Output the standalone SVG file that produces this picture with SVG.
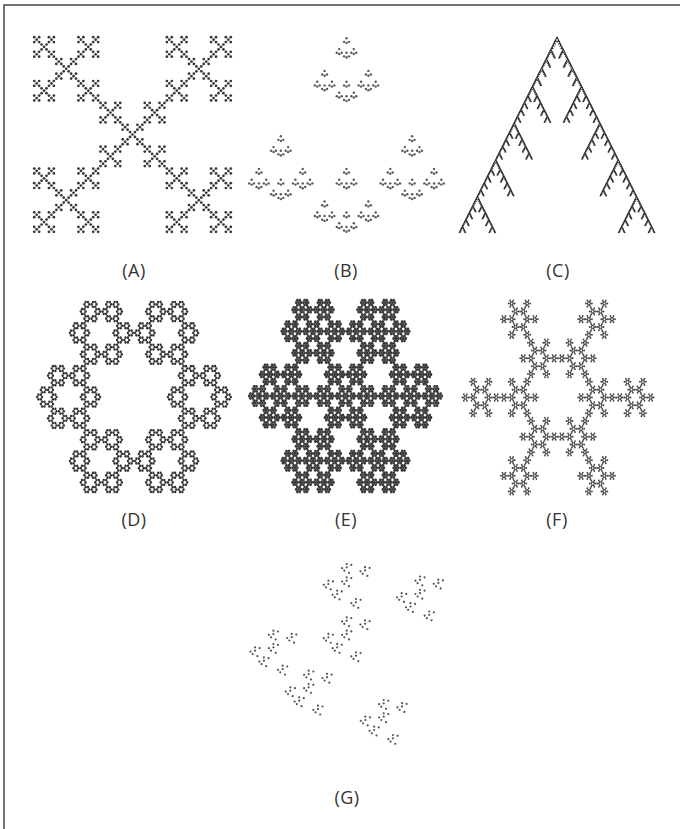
<svg xmlns="http://www.w3.org/2000/svg" width="680" height="829" viewBox="0 0 680 829">
  <style>
    .lbl { font-family: "Open Sans", "Liberation Sans", sans-serif; font-size: 18px; fill: #333; text-anchor: middle; letter-spacing: 0.5px; }
    .frame { fill: none; stroke: #444; stroke-width: 1.5; }
  </style>
  <defs>
    <!-- A: saltire (diagonal Vicsek) set, 5 maps at 1/3 -->
    <circle id="a0" cx="0.5" cy="0.5" r="0.56"/>
    <g id="a1">
      <use href="#a0" transform="translate(0,0) scale(0.3333333)"/>
      <use href="#a0" transform="translate(0.6666667,0) scale(0.3333333)"/>
      <use href="#a0" transform="translate(0,0.6666667) scale(0.3333333)"/>
      <use href="#a0" transform="translate(0.6666667,0.6666667) scale(0.3333333)"/>
      <use href="#a0" transform="translate(0.3333333,0.3333333) scale(0.3333333)"/>
    </g>
    <g id="a2">
      <use href="#a1" transform="translate(0,0) scale(0.3333333)"/>
      <use href="#a1" transform="translate(0.6666667,0) scale(0.3333333)"/>
      <use href="#a1" transform="translate(0,0.6666667) scale(0.3333333)"/>
      <use href="#a1" transform="translate(0.6666667,0.6666667) scale(0.3333333)"/>
      <use href="#a1" transform="translate(0.3333333,0.3333333) scale(0.3333333)"/>
    </g>
    <g id="a3">
      <use href="#a2" transform="translate(0,0) scale(0.3333333)"/>
      <use href="#a2" transform="translate(0.6666667,0) scale(0.3333333)"/>
      <use href="#a2" transform="translate(0,0.6666667) scale(0.3333333)"/>
      <use href="#a2" transform="translate(0.6666667,0.6666667) scale(0.3333333)"/>
      <use href="#a2" transform="translate(0.3333333,0.3333333) scale(0.3333333)"/>
    </g>
    <g id="a4">
      <use href="#a3" transform="translate(0,0) scale(0.3333333)"/>
      <use href="#a3" transform="translate(0.6666667,0) scale(0.3333333)"/>
      <use href="#a3" transform="translate(0,0.6666667) scale(0.3333333)"/>
      <use href="#a3" transform="translate(0.6666667,0.6666667) scale(0.3333333)"/>
      <use href="#a3" transform="translate(0.3333333,0.3333333) scale(0.3333333)"/>
    </g>

    <!-- B: four maps at 1/3 (top, left, right, lower middle) -->
    <circle id="b0" cx="0.5" cy="0.5" r="0.5"/>
    <g id="b1">
      <use href="#b0" transform="translate(0.3333333,0) scale(0.3333333)"/>
      <use href="#b0" transform="translate(0,0.5) scale(0.3333333)"/>
      <use href="#b0" transform="translate(0.6666667,0.5) scale(0.3333333)"/>
      <use href="#b0" transform="translate(0.3333333,0.6666667) scale(0.3333333)"/>
    </g>
    <g id="b2">
      <use href="#b1" transform="translate(0.3333333,0) scale(0.3333333)"/>
      <use href="#b1" transform="translate(0,0.5) scale(0.3333333)"/>
      <use href="#b1" transform="translate(0.6666667,0.5) scale(0.3333333)"/>
      <use href="#b1" transform="translate(0.3333333,0.6666667) scale(0.3333333)"/>
    </g>
    <g id="b3">
      <use href="#b2" transform="translate(0.3333333,0) scale(0.3333333)"/>
      <use href="#b2" transform="translate(0,0.5) scale(0.3333333)"/>
      <use href="#b2" transform="translate(0.6666667,0.5) scale(0.3333333)"/>
      <use href="#b2" transform="translate(0.3333333,0.6666667) scale(0.3333333)"/>
    </g>
    <g id="b4">
      <use href="#b3" transform="translate(0.3333333,0) scale(0.3333333)"/>
      <use href="#b3" transform="translate(0,0.5) scale(0.3333333)"/>
      <use href="#b3" transform="translate(0.6666667,0.5) scale(0.3333333)"/>
      <use href="#b3" transform="translate(0.3333333,0.6666667) scale(0.3333333)"/>
    </g>

    <!-- C: chevron tree, a top copy at 1/4 and four copies at 3/16 down each leg -->
    <path id="c0" d="M0,1 L0.5,0 L1,1" fill="none" stroke="#2e2e2e" stroke-width="1.1" vector-effect="non-scaling-stroke" stroke-linejoin="round"/>
    <g id="c1">
      <use href="#c0" transform="translate(0.375,0) scale(0.25)"/>
      <use href="#c0" transform="translate(0.28125,0.25) scale(0.1875)"/>
      <use href="#c0" transform="translate(0.1875,0.4375) scale(0.1875)"/>
      <use href="#c0" transform="translate(0.09375,0.625) scale(0.1875)"/>
      <use href="#c0" transform="translate(0,0.8125) scale(0.1875)"/>
      <use href="#c0" transform="translate(0.53125,0.25) scale(0.1875)"/>
      <use href="#c0" transform="translate(0.625,0.4375) scale(0.1875)"/>
      <use href="#c0" transform="translate(0.71875,0.625) scale(0.1875)"/>
      <use href="#c0" transform="translate(0.8125,0.8125) scale(0.1875)"/>
    </g>
    <g id="c2">
      <use href="#c1" transform="translate(0.375,0) scale(0.25)"/>
      <use href="#c1" transform="translate(0.28125,0.25) scale(0.1875)"/>
      <use href="#c1" transform="translate(0.1875,0.4375) scale(0.1875)"/>
      <use href="#c1" transform="translate(0.09375,0.625) scale(0.1875)"/>
      <use href="#c1" transform="translate(0,0.8125) scale(0.1875)"/>
      <use href="#c1" transform="translate(0.53125,0.25) scale(0.1875)"/>
      <use href="#c1" transform="translate(0.625,0.4375) scale(0.1875)"/>
      <use href="#c1" transform="translate(0.71875,0.625) scale(0.1875)"/>
      <use href="#c1" transform="translate(0.8125,0.8125) scale(0.1875)"/>
    </g>
    <g id="c3">
      <use href="#c2" transform="translate(0.375,0) scale(0.25)"/>
      <use href="#c2" transform="translate(0.28125,0.25) scale(0.1875)"/>
      <use href="#c2" transform="translate(0.1875,0.4375) scale(0.1875)"/>
      <use href="#c2" transform="translate(0.09375,0.625) scale(0.1875)"/>
      <use href="#c2" transform="translate(0,0.8125) scale(0.1875)"/>
      <use href="#c2" transform="translate(0.53125,0.25) scale(0.1875)"/>
      <use href="#c2" transform="translate(0.625,0.4375) scale(0.1875)"/>
      <use href="#c2" transform="translate(0.71875,0.625) scale(0.1875)"/>
      <use href="#c2" transform="translate(0.8125,0.8125) scale(0.1875)"/>
    </g>

    <!-- D: hexagonal ring, six maps at 1/3 -->
    <circle id="d0" cx="0" cy="0" r="0.98"/>
    <g id="d1">
      <use href="#d0" transform="translate(0.6666667,0) scale(0.3333333)"/>
      <use href="#d0" transform="translate(0.3333333,0.5773503) scale(0.3333333)"/>
      <use href="#d0" transform="translate(-0.3333333,0.5773503) scale(0.3333333)"/>
      <use href="#d0" transform="translate(-0.6666667,0) scale(0.3333333)"/>
      <use href="#d0" transform="translate(-0.3333333,-0.5773503) scale(0.3333333)"/>
      <use href="#d0" transform="translate(0.3333333,-0.5773503) scale(0.3333333)"/>
    </g>
    <g id="d2">
      <use href="#d1" transform="translate(0.6666667,0) scale(0.3333333)"/>
      <use href="#d1" transform="translate(0.3333333,0.5773503) scale(0.3333333)"/>
      <use href="#d1" transform="translate(-0.3333333,0.5773503) scale(0.3333333)"/>
      <use href="#d1" transform="translate(-0.6666667,0) scale(0.3333333)"/>
      <use href="#d1" transform="translate(-0.3333333,-0.5773503) scale(0.3333333)"/>
      <use href="#d1" transform="translate(0.3333333,-0.5773503) scale(0.3333333)"/>
    </g>
    <g id="d3">
      <use href="#d2" transform="translate(0.6666667,0) scale(0.3333333)"/>
      <use href="#d2" transform="translate(0.3333333,0.5773503) scale(0.3333333)"/>
      <use href="#d2" transform="translate(-0.3333333,0.5773503) scale(0.3333333)"/>
      <use href="#d2" transform="translate(-0.6666667,0) scale(0.3333333)"/>
      <use href="#d2" transform="translate(-0.3333333,-0.5773503) scale(0.3333333)"/>
      <use href="#d2" transform="translate(0.3333333,-0.5773503) scale(0.3333333)"/>
    </g>
    <g id="d4">
      <use href="#d3" transform="translate(0.6666667,0) scale(0.3333333)"/>
      <use href="#d3" transform="translate(0.3333333,0.5773503) scale(0.3333333)"/>
      <use href="#d3" transform="translate(-0.3333333,0.5773503) scale(0.3333333)"/>
      <use href="#d3" transform="translate(-0.6666667,0) scale(0.3333333)"/>
      <use href="#d3" transform="translate(-0.3333333,-0.5773503) scale(0.3333333)"/>
      <use href="#d3" transform="translate(0.3333333,-0.5773503) scale(0.3333333)"/>
    </g>

    <!-- E: hexaflake, six ring maps plus the centre, all at 1/3 -->
    <polygon id="e0" points="1.2,0 0.6,1.0392305 -0.6,1.0392305 -1.2,0 -0.6,-1.0392305 0.6,-1.0392305"/>
    <g id="e1">
      <use href="#e0" transform="scale(0.3333333)"/>
      <use href="#e0" transform="translate(0.6666667,0) scale(0.3333333)"/>
      <use href="#e0" transform="translate(0.3333333,0.5773503) scale(0.3333333)"/>
      <use href="#e0" transform="translate(-0.3333333,0.5773503) scale(0.3333333)"/>
      <use href="#e0" transform="translate(-0.6666667,0) scale(0.3333333)"/>
      <use href="#e0" transform="translate(-0.3333333,-0.5773503) scale(0.3333333)"/>
      <use href="#e0" transform="translate(0.3333333,-0.5773503) scale(0.3333333)"/>
    </g>
    <g id="e2">
      <use href="#e1" transform="scale(0.3333333)"/>
      <use href="#e1" transform="translate(0.6666667,0) scale(0.3333333)"/>
      <use href="#e1" transform="translate(0.3333333,0.5773503) scale(0.3333333)"/>
      <use href="#e1" transform="translate(-0.3333333,0.5773503) scale(0.3333333)"/>
      <use href="#e1" transform="translate(-0.6666667,0) scale(0.3333333)"/>
      <use href="#e1" transform="translate(-0.3333333,-0.5773503) scale(0.3333333)"/>
      <use href="#e1" transform="translate(0.3333333,-0.5773503) scale(0.3333333)"/>
    </g>
    <g id="e3">
      <use href="#e2" transform="scale(0.3333333)"/>
      <use href="#e2" transform="translate(0.6666667,0) scale(0.3333333)"/>
      <use href="#e2" transform="translate(0.3333333,0.5773503) scale(0.3333333)"/>
      <use href="#e2" transform="translate(-0.3333333,0.5773503) scale(0.3333333)"/>
      <use href="#e2" transform="translate(-0.6666667,0) scale(0.3333333)"/>
      <use href="#e2" transform="translate(-0.3333333,-0.5773503) scale(0.3333333)"/>
      <use href="#e2" transform="translate(0.3333333,-0.5773503) scale(0.3333333)"/>
    </g>
    <g id="e4">
      <use href="#e3" transform="scale(0.3333333)"/>
      <use href="#e3" transform="translate(0.6666667,0) scale(0.3333333)"/>
      <use href="#e3" transform="translate(0.3333333,0.5773503) scale(0.3333333)"/>
      <use href="#e3" transform="translate(-0.3333333,0.5773503) scale(0.3333333)"/>
      <use href="#e3" transform="translate(-0.6666667,0) scale(0.3333333)"/>
      <use href="#e3" transform="translate(-0.3333333,-0.5773503) scale(0.3333333)"/>
      <use href="#e3" transform="translate(0.3333333,-0.5773503) scale(0.3333333)"/>
    </g>

    <!-- F: snowflake, twelve maps at 1/5 on two rings (0.4 and 0.8) -->
    <circle id="f0" cx="0" cy="0" r="1.1"/>
    <g id="f1">
      <use href="#f0" transform="translate(0.4,0) scale(0.2)"/>
      <use href="#f0" transform="translate(0.2,0.3464102) scale(0.2)"/>
      <use href="#f0" transform="translate(-0.2,0.3464102) scale(0.2)"/>
      <use href="#f0" transform="translate(-0.4,0) scale(0.2)"/>
      <use href="#f0" transform="translate(-0.2,-0.3464102) scale(0.2)"/>
      <use href="#f0" transform="translate(0.2,-0.3464102) scale(0.2)"/>
      <use href="#f0" transform="translate(0.8,0) scale(0.2)"/>
      <use href="#f0" transform="translate(0.4,0.6928203) scale(0.2)"/>
      <use href="#f0" transform="translate(-0.4,0.6928203) scale(0.2)"/>
      <use href="#f0" transform="translate(-0.8,0) scale(0.2)"/>
      <use href="#f0" transform="translate(-0.4,-0.6928203) scale(0.2)"/>
      <use href="#f0" transform="translate(0.4,-0.6928203) scale(0.2)"/>
    </g>
    <g id="f2">
      <use href="#f1" transform="translate(0.4,0) scale(0.2)"/>
      <use href="#f1" transform="translate(0.2,0.3464102) scale(0.2)"/>
      <use href="#f1" transform="translate(-0.2,0.3464102) scale(0.2)"/>
      <use href="#f1" transform="translate(-0.4,0) scale(0.2)"/>
      <use href="#f1" transform="translate(-0.2,-0.3464102) scale(0.2)"/>
      <use href="#f1" transform="translate(0.2,-0.3464102) scale(0.2)"/>
      <use href="#f1" transform="translate(0.8,0) scale(0.2)"/>
      <use href="#f1" transform="translate(0.4,0.6928203) scale(0.2)"/>
      <use href="#f1" transform="translate(-0.4,0.6928203) scale(0.2)"/>
      <use href="#f1" transform="translate(-0.8,0) scale(0.2)"/>
      <use href="#f1" transform="translate(-0.4,-0.6928203) scale(0.2)"/>
      <use href="#f1" transform="translate(0.4,-0.6928203) scale(0.2)"/>
    </g>
    <g id="f3">
      <use href="#f2" transform="translate(0.4,0) scale(0.2)"/>
      <use href="#f2" transform="translate(0.2,0.3464102) scale(0.2)"/>
      <use href="#f2" transform="translate(-0.2,0.3464102) scale(0.2)"/>
      <use href="#f2" transform="translate(-0.4,0) scale(0.2)"/>
      <use href="#f2" transform="translate(-0.2,-0.3464102) scale(0.2)"/>
      <use href="#f2" transform="translate(0.2,-0.3464102) scale(0.2)"/>
      <use href="#f2" transform="translate(0.8,0) scale(0.2)"/>
      <use href="#f2" transform="translate(0.4,0.6928203) scale(0.2)"/>
      <use href="#f2" transform="translate(-0.4,0.6928203) scale(0.2)"/>
      <use href="#f2" transform="translate(-0.8,0) scale(0.2)"/>
      <use href="#f2" transform="translate(-0.4,-0.6928203) scale(0.2)"/>
      <use href="#f2" transform="translate(0.4,-0.6928203) scale(0.2)"/>
    </g>

    <!-- G: six pure translations, each level a quarter of the one above -->
    <circle id="g0" cx="0" cy="0" r="1.1"/>
    <g id="g1">
      <use href="#g0"/>
      <use href="#g0" transform="translate(4.58,0.78)"/>
      <use href="#g0" transform="translate(-4.58,4.17)"/>
      <use href="#g0" transform="translate(0,3.33)"/>
      <use href="#g0" transform="translate(-2.375,6.67)"/>
      <use href="#g0" transform="translate(2.31,8.8)"/>
    </g>
    <g id="g2">
      <use href="#g1"/>
      <use href="#g1" transform="translate(18.33,3.125)"/>
      <use href="#g1" transform="translate(-18.33,16.67)"/>
      <use href="#g1" transform="translate(0,13.33)"/>
      <use href="#g1" transform="translate(-9.5,26.67)"/>
      <use href="#g1" transform="translate(9.25,35)"/>
    </g>
    <g id="g3">
      <use href="#g2"/>
      <use href="#g2" transform="translate(73.3,12.5)"/>
      <use href="#g2" transform="translate(-73.3,66.7)"/>
      <use href="#g2" transform="translate(0,53.3)"/>
      <use href="#g2" transform="translate(-38,106.7)"/>
      <use href="#g2" transform="translate(37,136)"/>
    </g>
  </defs>

  <rect width="680" height="829" fill="#fff"/>
  <path class="frame" d="M4,829 V5 H680"/>

  <g id="panel-a" fill="#383838">
    <use href="#a4" transform="translate(33,36) scale(199,197)"/>
    <text class="lbl" x="134" y="277">(A)</text>
  </g>

  <g id="panel-b" fill="#5a5a5a">
    <use href="#b4" transform="translate(248,37) scale(197,196)"/>
    <text class="lbl" x="346" y="277">(B)</text>
  </g>

  <g id="panel-c">
    <use href="#c3" transform="translate(459,37) scale(196)"/>
    <text class="lbl" x="558" y="277">(C)</text>
  </g>

  <g id="panel-d" fill="#333">
    <use href="#d4" transform="translate(134,397) scale(98,111)"/>
    <text class="lbl" x="134" y="526">(D)</text>
  </g>

  <g id="panel-e" fill="#383838">
    <use href="#e4" transform="translate(345.5,396) scale(97.5,112)"/>
    <text class="lbl" x="346" y="526">(E)</text>
  </g>

  <g id="panel-f" fill="#444">
    <use href="#f3" transform="translate(558,397.5) scale(96.5,113)"/>
    <text class="lbl" x="557" y="526">(F)</text>
  </g>

  <g id="panel-g" fill="#555">
    <use href="#g3" transform="translate(346.7,564)"/>
    <text class="lbl" x="347" y="804">(G)</text>
  </g>
</svg>
